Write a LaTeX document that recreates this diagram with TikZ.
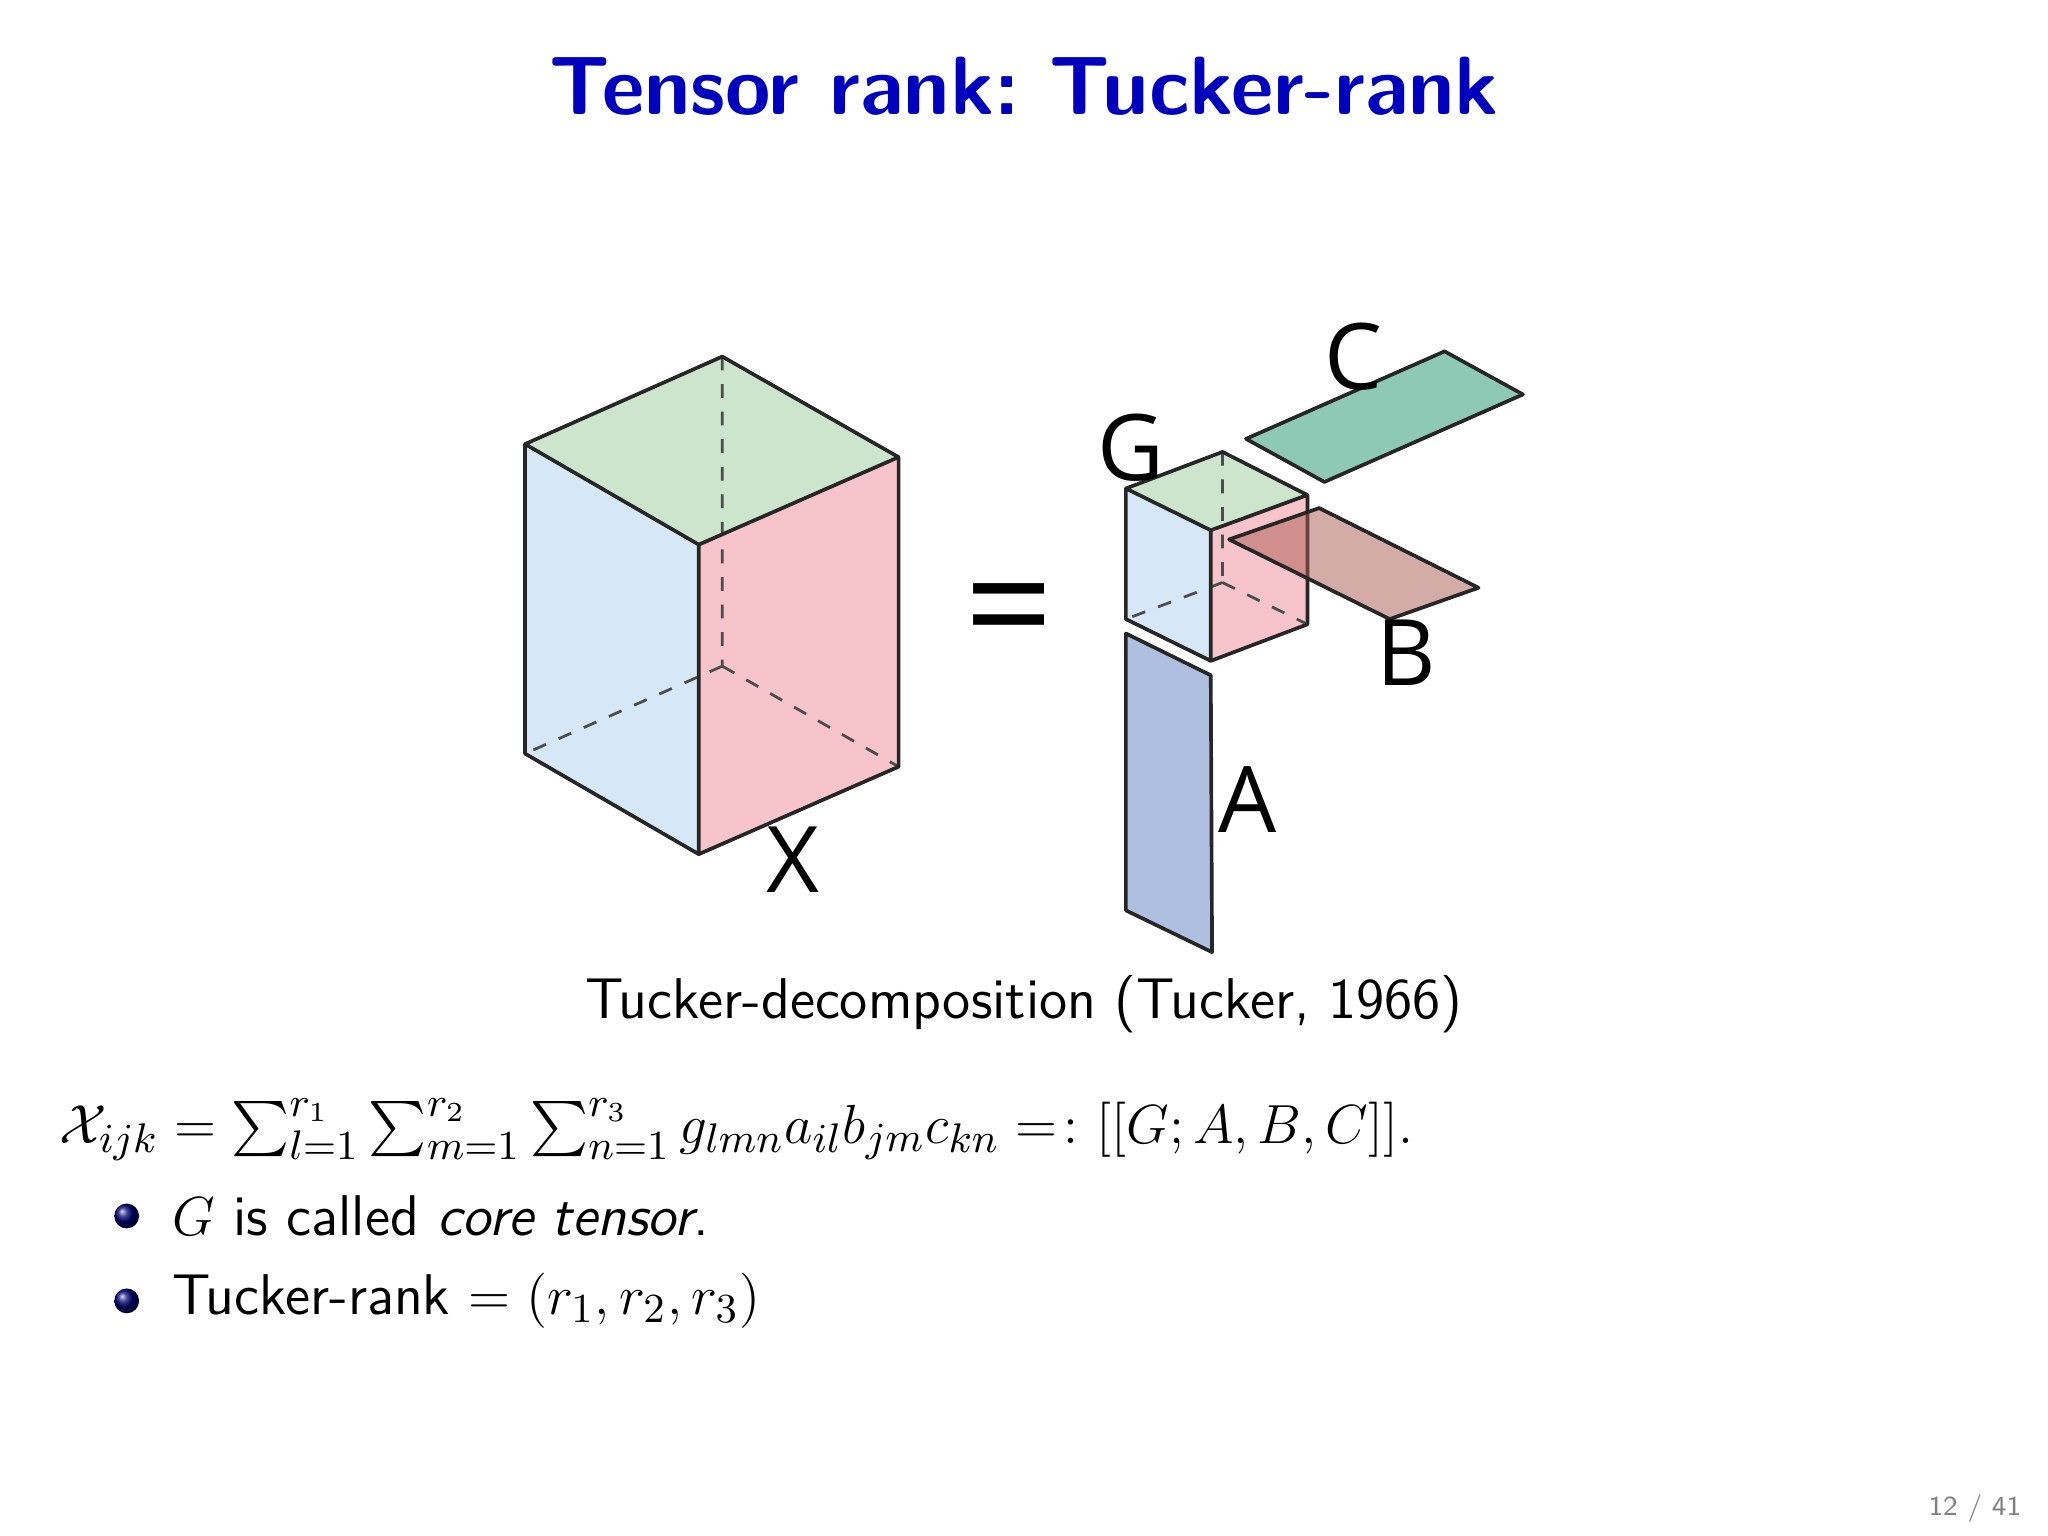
\documentclass[tikz,border=0pt]{standalone}
\usepackage{amsmath}
\usepackage{fontspec}
\newfontfamily\lab{Open Sans}
\usetikzlibrary{shadings}
\begin{document}
\begin{tikzpicture}[x=0.01cm,y=-0.01cm,
  edge/.style={draw=black!85,line width=0.8pt,line join=round},
  hid/.style={draw=black!70,dashed,line width=0.6pt},
  lbl/.style={font=\lab\fontsize{20}{24}\selectfont,inner sep=0pt},
  txt/.style={font=\sffamily\fontsize{12.5}{15}\selectfont,anchor=west,inner sep=0pt},
  bul/.style={circle,inner sep=0pt,minimum size=0.19cm,shading=ball,ball color=blue!45!black}]
\useasboundingbox (0,0) rectangle (1568,1176);
\node[font=\sffamily\bfseries\fontsize{18}{22}\selectfont,text=blue!75!black] (title) at (784,66) {Tensor rank:\ Tucker-rank};
\definecolor{fb}{rgb}{0.84,0.91,0.97}
\definecolor{fp}{rgb}{0.97,0.77,0.80}
\definecolor{fg}{rgb}{0.80,0.90,0.80}
% big cube X
\coordinate (a) at (402,340); \coordinate (b) at (553,273); \coordinate (c) at (688,350); \coordinate (d) at (535,417);
\coordinate (e) at (402,577); \coordinate (f) at (535,654); \coordinate (g) at (688,587); \coordinate (h) at (553,510);
\fill[fb] (a)--(d)--(f)--(e)--cycle;
\fill[fp] (d)--(c)--(g)--(f)--cycle;
\fill[fg] (a)--(b)--(c)--(d)--cycle;
\draw[hid] (b)--(h) (h)--(e) (h)--(g);
\draw[edge] (a)--(b)--(c)--(d)--cycle (a)--(e)--(f)--(d) (f)--(g)--(c);
\node[lbl] (X) at (607,658) {X};
\node[font=\lab\fontsize{34}{34}\selectfont] (eq) at (773,476) {=};
% G cube
\coordinate (ga) at (862,374); \coordinate (gb) at (936,346); \coordinate (gc) at (1001,379); \coordinate (gd) at (927,406);
\coordinate (ge) at (862,474); \coordinate (gf) at (927,506); \coordinate (gg) at (1001,478); \coordinate (gh) at (936,446);
\fill[fb] (ga)--(gd)--(gf)--(ge)--cycle;
\fill[fp] (gd)--(gc)--(gg)--(gf)--cycle;
\fill[fg] (ga)--(gb)--(gc)--(gd)--cycle;
\draw[hid] (gb)--(gh) (gh)--(ge) (gh)--(gg);
\draw[edge] (ga)--(gb)--(gc)--(gd)--cycle (ga)--(ge)--(gf)--(gd) (gf)--(gg)--(gc);
\node[lbl] (G) at (866,343) {G};
% C
\filldraw[edge,fill={rgb,255:red,141;green,201;blue,181}] (954,336)--(1106,269)--(1166,302)--(1014,369)--cycle;
\node[lbl] (C) at (1036,273) {C};
% B
\filldraw[edge,fill={rgb,255:red,170;green,90;blue,80},fill opacity=0.5] (941,413)--(1010,389)--(1132,450)--(1064,474)--cycle;
\node[lbl] (B) at (1077,500) {B};
% A
\filldraw[edge,fill={rgb,255:red,174;green,191;blue,224}] (862,485)--(927,517)--(928,729)--(862,697)--cycle;
\node[lbl] (A) at (955,612) {A};
\node[font=\sffamily\fontsize{12.5}{15}\selectfont] (cap) at (784,769) {Tucker-decomposition (Tucker, 1966)};
\node[txt] (f1) at (45,865) {$\mathcal{X}_{ijk}=\sum_{l=1}^{r_1}\sum_{m=1}^{r_2}\sum_{n=1}^{r_3} g_{lmn}a_{il}b_{jm}c_{kn} =\colon [[G;A,B,C]].$};
\node[bul] (b1) at (97,931) {};
\node[txt] (t1) at (131,931) {$G$ is called \textit{core tensor}.};
\node[bul] (b2) at (97,996) {};
\node[txt] (t2) at (131,996) {Tucker-rank $=(r_1,r_2,r_3)$};
\node[font=\sffamily\fontsize{6}{8}\selectfont,text=black!50] (pg) at (1512,1155) {12 / 41};
\end{tikzpicture}
\end{document}
